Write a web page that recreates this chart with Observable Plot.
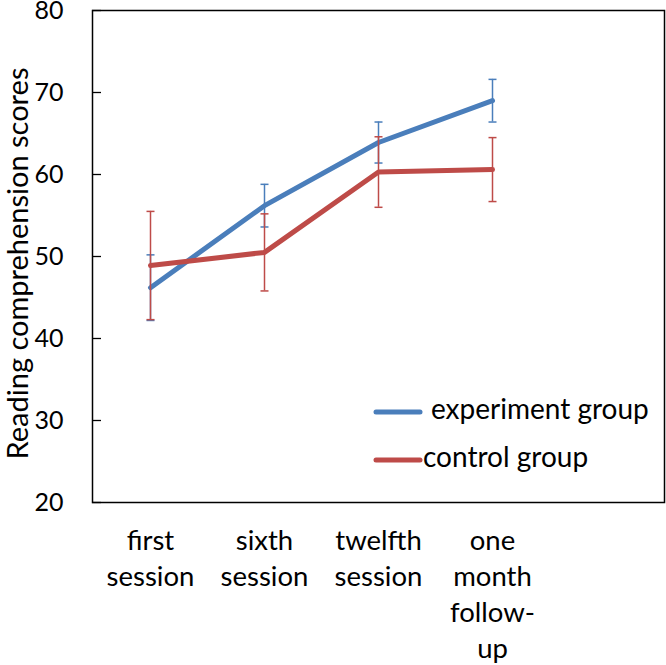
<!DOCTYPE html>
<html>
<head>
<meta charset="utf-8">
<script src="https://cdn.jsdelivr.net/npm/d3@7"></script>
<script src="https://cdn.jsdelivr.net/npm/@observablehq/plot@0.6"></script>
<style>
  html, body { margin: 0; padding: 0; background: #fff; }
  #wrap { position: relative; width: 666px; height: 665px; overflow: hidden; }
  #wrap svg { display: block; }
  #legend { position: absolute; left: 0; top: 0; pointer-events: none; }
</style>
</head>
<body>
<div id="wrap"></div>
<script>
// ---- data ----
const categories = ["first session", "sixth session", "twelfth session", "one month follow-up"];
const tickLabels = ["first\nsession", "sixth\nsession", "twelfth\nsession", "one\nmonth\nfollow-\nup"];
const yTicks = [20, 30, 40, 50, 60, 70, 80];
const yTitle = "Reading comprehension scores";
const seriesNames = ["experiment group", "control group"];
const experimentMean = [46.2, 56.2, 63.9, 69.0];
const experimentErr = [4.0, 2.6, 2.5, 2.6];
const controlMean = [48.9, 50.5, 60.3, 60.6];
const controlErr = [6.6, 4.7, 4.3, 3.9];
const seriesColors = ["#4A7EBB", "#BE4B48"];

// ---- build rows ----
const means = [experimentMean, controlMean];
const errs = [experimentErr, controlErr];
const series = seriesNames.map((name, s) =>
  categories.map((cat, i) => ({cat, group: name, mean: means[s][i], err: errs[s][i]}))
);

const capSymbol = {
  draw(ctx, size) {
    const r = Math.sqrt(size / Math.PI);
    ctx.moveTo(-r, 0);
    ctx.lineTo(r, 0);
  }
};

const seriesMarks = series.flatMap((rows, s) => [
  Plot.line(rows, {x: "cat", y: "mean", stroke: seriesColors[s], strokeWidth: 5, strokeLinecap: "round", strokeLinejoin: "round"}),
  Plot.ruleX(rows, {x: "cat", y1: d => d.mean - d.err, y2: d => d.mean + d.err, stroke: seriesColors[s], strokeWidth: 1.5}),
  Plot.dot(rows, {x: "cat", y: d => d.mean + d.err, symbol: capSymbol, r: 4, stroke: seriesColors[s], strokeWidth: 1.5, fill: "none"}),
  Plot.dot(rows, {x: "cat", y: d => d.mean - d.err, symbol: capSymbol, r: 4, stroke: seriesColors[s], strokeWidth: 1.5, fill: "none"})
]);

const W = 666, H = 665;
const mL = 92, mR = 2, mT = 10, mB = 163;

const chart = Plot.plot({
  width: W,
  height: H,
  marginLeft: mL,
  marginRight: mR,
  marginTop: mT,
  marginBottom: mB,
  style: {fontFamily: "Lato, 'Open Sans', sans-serif", fontSize: "27px", color: "#000", background: "#fff", overflow: "visible"},
  x: {type: "point", domain: [...categories, "(spare)"], padding: 0.5, axis: null},
  y: {domain: [20, 80], axis: null, label: null},
  marks: [
    Plot.axisY(yTicks, {tickSize: 0, tickPadding: 29, fontSize: 25, label: null}),
    Plot.tickY(yTicks, {y: d => d, insetRight: (W - mL - mR) - 9, stroke: "#000", strokeWidth: 1.3}),
    Plot.axisX(categories, {tickSize: 0, tickPadding: 21.5, fontSize: 27.5, lineHeight: 1.31, label: null,
      tickFormat: d => tickLabels[categories.indexOf(d)]}),
    Plot.text([yTitle], {frameAnchor: "left", textAnchor: "middle", lineAnchor: "middle", rotate: -90, dx: -74, dy: 7, fontSize: 29}),
    ...seriesMarks,
    Plot.frame({stroke: "#000", strokeWidth: 1.5})
  ]
});

const wrap = document.getElementById("wrap");
wrap.appendChild(chart);

// ---- legend overlay ----
const legendItems = seriesNames.map((name, i) => ({name, color: seriesColors[i]}));
const legendLayout = [
  {x1: 376, x2: 420, y: 412, tx: 431, ty: 419},
  {x1: 376, x2: 420, y: 460, tx: 423, ty: 467}
];
const lg = d3.select(wrap).append("svg")
  .attr("id", "legend")
  .attr("width", W).attr("height", H);
legendItems.forEach((item, i) => {
  const L = legendLayout[i];
  lg.append("line")
    .attr("x1", L.x1).attr("x2", L.x2).attr("y1", L.y).attr("y2", L.y)
    .attr("stroke", item.color).attr("stroke-width", 5).attr("stroke-linecap", "round");
  lg.append("text")
    .attr("x", L.tx).attr("y", L.ty)
    .attr("font-family", "Lato, 'Open Sans', sans-serif")
    .attr("font-size", 28)
    .attr("fill", "#000")
    .text(item.name);
});
</script>
</body>
</html>
